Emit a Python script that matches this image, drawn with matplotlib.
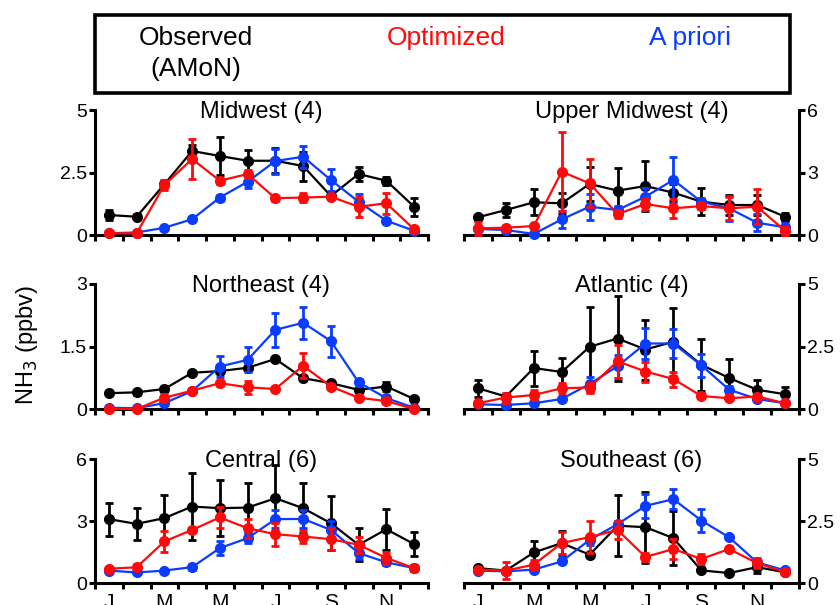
import numpy as np
import matplotlib
matplotlib.use('Agg')
import matplotlib.pyplot as plt
from matplotlib.patches import Rectangle

plt.rcParams['font.family'] = ['Liberation Sans', 'DejaVu Sans']

# ---------------- data ----------------
months = ['Jan', 'Feb', 'Mar', 'Apr', 'May', 'Jun', 'Jul', 'Aug', 'Sep', 'Oct', 'Nov', 'Dec']
month_tick_labels = ['J', 'M', 'M', 'J', 'S', 'N']
series_names = ['Observed\n(AMoN)', 'Optimized', 'A priori']

titles = ['Midwest (4)', 'Upper Midwest (4)', 'Northeast (4)', 'Atlantic (4)', 'Central (6)', 'Southeast (6)']
ymax = [5, 6, 3, 5, 6, 5]
ytick_labels = [['0', '2.5', '5'], ['0', '3', '6'], ['0', '1.5', '3'],
                ['0', '2.5', '5'], ['0', '3', '6'], ['0', '2.5', '5']]

midwest_obs = [0.80, 0.73, 2.03, 3.36, 3.16, 2.97, 2.97, 2.76, 1.56, 2.44, 2.17, 1.13]
midwest_obs_err = [0.20, 0.10, 0.15, 0.25, 0.75, 0.45, 0.50, 0.58, 0.12, 0.27, 0.15, 0.35]
midwest_opt = [0.07, 0.07, 2.00, 3.04, 2.17, 2.44, 1.47, 1.50, 1.53, 1.13, 1.27, 0.23]
midwest_opt_err = [0.05, 0.05, 0.20, 0.80, 0.12, 0.15, 0.10, 0.18, 0.10, 0.40, 0.42, 0.05]
midwest_apr = [0.07, 0.10, 0.29, 0.63, 1.50, 2.13, 2.96, 3.13, 2.20, 1.33, 0.57, 0.17]
midwest_apr_err = [0.03, 0.03, 0.05, 0.08, 0.12, 0.25, 0.50, 0.45, 0.45, 0.30, 0.08, 0.05]

uppermw_obs = [0.85, 1.20, 1.57, 1.52, 2.45, 2.13, 2.35, 2.03, 1.60, 1.44, 1.44, 0.88]
uppermw_obs_err = [0.12, 0.35, 0.63, 0.50, 0.80, 1.10, 1.20, 0.40, 0.65, 0.48, 0.50, 0.20]
uppermw_opt = [0.32, 0.35, 0.43, 3.04, 2.48, 1.00, 1.49, 1.28, 1.39, 1.28, 1.36, 0.20]
uppermw_opt_err = [0.30, 0.10, 0.10, 1.90, 1.15, 0.20, 0.30, 0.45, 0.15, 0.55, 0.85, 0.20]
uppermw_apr = [0.29, 0.24, 0.05, 0.75, 1.36, 1.20, 1.84, 2.64, 1.60, 1.28, 0.59, 0.37]
uppermw_apr_err = [0.05, 0.10, 0.05, 0.40, 0.62, 0.20, 0.40, 1.10, 0.20, 0.60, 0.42, 0.20]

northeast_obs = [0.38, 0.40, 0.48, 0.87, 0.91, 0.99, 1.20, 0.74, 0.62, 0.46, 0.54, 0.24]
northeast_obs_err = [0.03, 0.06, 0.04, 0.05, 0.05, 0.05, 0.05, 0.04, 0.06, 0.04, 0.10, 0.04]
northeast_opt = [0.00, 0.00, 0.27, 0.44, 0.62, 0.52, 0.48, 1.04, 0.54, 0.27, 0.19, 0.00]
northeast_opt_err = [0.02, 0.02, 0.08, 0.04, 0.06, 0.15, 0.04, 0.30, 0.06, 0.04, 0.05, 0.02]
northeast_apr = [0.03, 0.02, 0.14, 0.43, 1.02, 1.18, 1.90, 2.07, 1.63, 0.64, 0.26, 0.03]
northeast_apr_err = [0.02, 0.02, 0.04, 0.04, 0.25, 0.30, 0.40, 0.38, 0.37, 0.08, 0.04, 0.02]

atlantic_obs = [0.83, 0.50, 1.64, 1.48, 2.49, 2.82, 2.38, 2.69, 1.77, 1.24, 0.77, 0.59]
atlantic_obs_err = [0.33, 0.10, 0.70, 0.55, 1.60, 1.70, 1.20, 1.35, 1.05, 0.77, 0.40, 0.30]
atlantic_opt = [0.23, 0.46, 0.56, 0.83, 0.86, 1.91, 1.50, 1.20, 0.52, 0.43, 0.50, 0.23]
atlantic_opt_err = [0.05, 0.20, 0.20, 0.20, 0.20, 0.65, 0.40, 0.30, 0.08, 0.05, 0.08, 0.05]
atlantic_apr = [0.19, 0.16, 0.23, 0.40, 1.00, 1.71, 2.62, 2.62, 1.75, 0.77, 0.40, 0.23]
atlantic_apr_err = [0.03, 0.03, 0.05, 0.06, 0.30, 0.45, 0.62, 0.57, 0.45, 0.15, 0.08, 0.05]

central_obs = [3.09, 2.86, 3.14, 3.70, 3.62, 3.65, 4.10, 3.62, 2.89, 1.85, 2.60, 1.88]
central_obs_err = [0.80, 0.78, 1.12, 1.60, 1.35, 1.20, 1.60, 1.20, 1.30, 0.80, 1.00, 0.58]
central_opt = [0.69, 0.76, 2.01, 2.57, 3.17, 2.65, 2.36, 2.25, 2.12, 1.85, 1.21, 0.72]
central_opt_err = [0.10, 0.15, 0.53, 0.10, 0.50, 0.45, 0.55, 0.33, 0.53, 0.40, 0.30, 0.15]
central_apr = [0.60, 0.51, 0.60, 0.77, 1.69, 2.17, 3.09, 3.10, 2.57, 1.45, 1.00, 0.72]
central_apr_err = [0.08, 0.08, 0.10, 0.15, 0.35, 0.25, 0.42, 0.45, 0.45, 0.30, 0.15, 0.15]

southeast_obs = [0.60, 0.50, 1.23, 1.61, 1.14, 2.31, 2.25, 1.81, 0.51, 0.40, 0.64, 0.43]
southeast_obs_err = [0.05, 0.05, 0.45, 0.50, 0.05, 1.22, 1.43, 1.10, 0.05, 0.05, 0.25, 0.05]
southeast_opt = [0.54, 0.50, 0.74, 1.61, 1.85, 2.14, 1.05, 1.37, 0.97, 1.37, 0.80, 0.44]
southeast_opt_err = [0.08, 0.35, 0.20, 0.45, 0.65, 0.35, 0.15, 0.40, 0.20, 0.06, 0.20, 0.06]
southeast_apr = [0.50, 0.47, 0.54, 0.87, 1.74, 2.37, 3.11, 3.38, 2.52, 1.84, 0.83, 0.51]
southeast_apr_err = [0.05, 0.05, 0.05, 0.06, 0.20, 0.15, 0.48, 0.40, 0.45, 0.06, 0.06, 0.08]

regions = [
    (midwest_obs, midwest_obs_err, midwest_opt, midwest_opt_err, midwest_apr, midwest_apr_err),
    (uppermw_obs, uppermw_obs_err, uppermw_opt, uppermw_opt_err, uppermw_apr, uppermw_apr_err),
    (northeast_obs, northeast_obs_err, northeast_opt, northeast_opt_err, northeast_apr, northeast_apr_err),
    (atlantic_obs, atlantic_obs_err, atlantic_opt, atlantic_opt_err, atlantic_apr, atlantic_apr_err),
    (central_obs, central_obs_err, central_opt, central_opt_err, central_apr, central_apr_err),
    (southeast_obs, southeast_obs_err, southeast_opt, southeast_opt_err, southeast_apr, southeast_apr_err),
]

# ---------------- style ----------------
C_OBS = '#000000'
C_OPT = '#ff0a0a'
C_APR = '#0a3cff'
W, H = 840, 605

fig = plt.figure(figsize=(W / 100, H / 100), dpi=100)

left_x, left_w = 95 / W, 333 / W
right_x, right_w = 464 / W, 335 / W
rows = [(235, 125), (409, 125), (583, 124)]  # (bottom pixel, height pixels)

x = np.arange(len(months)) + 0.5

for i, (title, ym, ylabs, data) in enumerate(zip(titles, ymax, ytick_labels, regions)):
    r, c = divmod(i, 2)
    bot, hgt = rows[r]
    ax = fig.add_axes([left_x if c == 0 else right_x, 1 - bot / H,
                       left_w if c == 0 else right_w, hgt / H])
    obs, obs_e, opt, opt_e, apr, apr_e = data
    for (yv, ev, col, z) in [(obs, obs_e, C_OBS, 5), (apr, apr_e, C_APR, 6), (opt, opt_e, C_OPT, 7)]:
        cont = ax.errorbar(x, yv, yerr=ev, color=col, marker='o', ms=7, lw=1.6,
                           elinewidth=2.0, capsize=3.2, capthick=2.0, zorder=z)
        cont.lines[0].set_clip_on(False)
        for art in cont.lines[1]:
            art.set_clip_on(False)
        for art in cont.lines[2]:
            art.set_clip_on(False)

    ax.set_xlim(0, 12)
    ax.set_ylim(0, ym)
    ax.set_yticks([0, ym / 2, ym])
    ax.set_yticklabels(ylabs)
    ax.set_xticks(np.arange(13))
    ax.set_xticklabels([])
    if r == 2:
        ax.set_xticks(x[::2], minor=True)
        ax.set_xticklabels(month_tick_labels, minor=True)
        ax.tick_params(axis='x', which='minor', length=0, pad=7, labelsize=15)
    ax.tick_params(axis='both', which='major', direction='out', length=4, width=2.2,
                   labelsize=14, pad=2)
    ax.spines['top'].set_visible(False)
    if c == 0:
        ax.spines['right'].set_visible(False)
    else:
        ax.spines['left'].set_visible(False)
        ax.yaxis.tick_right()
    for s in ax.spines.values():
        s.set_linewidth(2.2)
    ax.text(0.5, 0.936, title, transform=ax.transAxes, ha='center', va='baseline',
            fontsize=17, zorder=10)

# y label
fig.text(27 / W, 1 - 345 / H, 'NH$_3$ (ppbv)', rotation=90, ha='center', va='center', fontsize=17)

# legend box
fig.patches.append(Rectangle((95 / W, 1 - 93 / H), (790 - 95) / W, (93 - 15) / H,
                             transform=fig.transFigure, fill=False, lw=2.6, edgecolor='black'))
fig.text(196 / W, 1 - 45 / H, 'Observed', color=C_OBS, fontsize=19, ha='center', va='baseline')
fig.text(196 / W, 1 - 76 / H, '(AMoN)', color=C_OBS, fontsize=19, ha='center', va='baseline')
fig.text(446 / W, 1 - 45 / H, 'Optimized', color=C_OPT, fontsize=19, ha='center', va='baseline')
fig.text(690 / W, 1 - 45 / H, 'A priori', color=C_APR, fontsize=19, ha='center', va='baseline')

fig.savefig('out.png', dpi=100)
